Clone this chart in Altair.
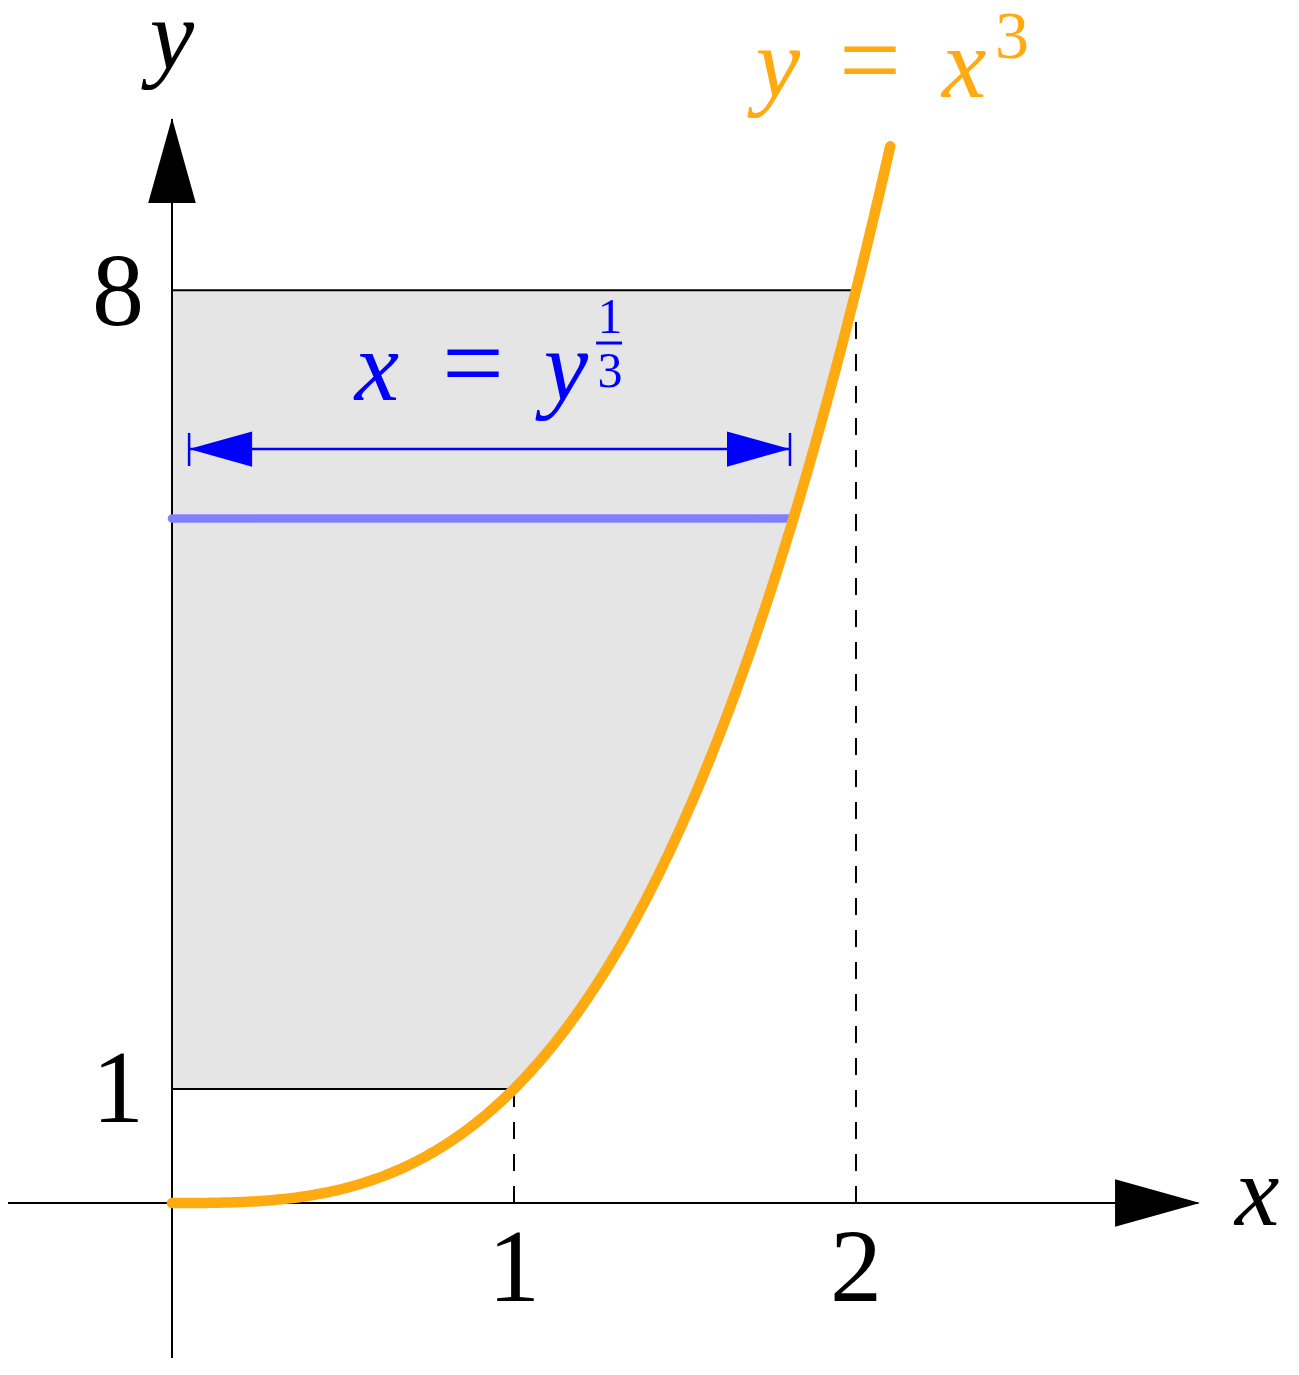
import altair as alt
import numpy as np
import pandas as pd

# ---------------- data ----------------
# the plotted function y = x^3 (as labelled in the figure), sampled on x
curve_x = np.linspace(0.0, 2.1, 211)
curve_y = curve_x ** 3

# shaded region: 1 <= y <= 8, 0 <= x <= y^(1/3)
region_y = np.linspace(1.0, 8.0, 141)
region_x = region_y ** (1.0 / 3.0)

# sample slice at y = 6
slice_y = [6.0]
slice_x_end = [6.0 ** (1.0 / 3.0)]

# region boundary lines
bound_y = [1.0, 8.0]
bound_x_end = [1.0, 2.0]

# dashed drop lines
drop_x = [1.0, 2.0]
drop_y_top = [1.0, 8.0]

# width arrow (x = y^(1/3)) annotation
warrow_y = 6.608
warrow_x = [0.05, 1.807]
warrow_bar_y = [6.459, 6.749]

# axis extents / arrow tips
xaxis_range = [-1.0, 3.0]
yaxis_range = [-2.0, 9.5]
xtip = [3.006]
ytip = [9.509]

# tick labels
xtick_labels = ["1", "2"]
xtick_pos = [1.0, 2.0]
ytick_labels = ["8", "1"]
ytick_pos = [7.695, 0.71]

# ---------------- scales ----------------
W, H = 1280, 1350
PX_X, PX_Y = 342.0, 114.1
x0 = -(172 - 8) / PX_X
x1 = x0 + W / PX_X
y1 = (1203 - 8) / PX_Y
y0 = y1 - H / PX_Y

xs = alt.Scale(domain=[x0, x1], nice=False, zero=False)
ys = alt.Scale(domain=[y0, y1], nice=False, zero=False)


def X(f):
    return alt.X(f, type="quantitative", scale=xs, axis=None)


def Y(f):
    return alt.Y(f, type="quantitative", scale=ys, axis=None)


FONT = "Liberation Serif"
ORANGE = "#ffaa11"
BLUE = "#0000ff"
ARROW = "M0,0L-1,-0.28L-1,0.28Z"

layers = []

# gray region
reg = pd.DataFrame({"y": region_y, "x": region_x, "x0": 0.0})
layers.append(
    alt.Chart(reg).mark_area(orient="horizontal", color="#e5e5e5").encode(
        y=Y("y"), x=X("x0"), x2="x"
    )
)

# boundary lines y=1, y=8
bd = pd.DataFrame({"y": bound_y, "xe": bound_x_end, "xs": 0.0})
layers.append(
    alt.Chart(bd).mark_rule(color="black", strokeWidth=2).encode(
        y=Y("y"), x=X("xs"), x2="xe"
    )
)

# dashed drop lines
dr = pd.DataFrame({"x": drop_x, "yt": drop_y_top, "yb": 0.0})
layers.append(
    alt.Chart(dr).mark_rule(color="black", strokeWidth=2, strokeDash=[17, 15]).encode(
        x=X("x"), y=Y("yb"), y2="yt"
    )
)

# axes lines
ax = pd.DataFrame({"a": [xaxis_range[0]], "b": [xaxis_range[1]], "z": [0.0]})
layers.append(
    alt.Chart(ax).mark_rule(color="black", strokeWidth=2).encode(
        x=X("a"), x2="b", y=Y("z")
    )
)
ay = pd.DataFrame({"a": [yaxis_range[0]], "b": [yaxis_range[1]], "z": [0.0]})
layers.append(
    alt.Chart(ay).mark_rule(color="black", strokeWidth=2).encode(
        y=Y("a"), y2="b", x=X("z")
    )
)

# axis arrowheads
layers.append(
    alt.Chart(pd.DataFrame({"x": xtip, "y": [0.0]})).mark_point(
        shape=ARROW, filled=True, color="black", opacity=1, size=28900, strokeWidth=0
    ).encode(x=X("x"), y=Y("y"))
)
layers.append(
    alt.Chart(pd.DataFrame({"x": [0.0], "y": ytip})).mark_point(
        shape=ARROW, filled=True, color="black", opacity=1, size=28900, strokeWidth=0, angle=270
    ).encode(x=X("x"), y=Y("y"))
)

# blue slice line at y = 6
sl = pd.DataFrame({"y": slice_y, "xe": slice_x_end, "xs": 0.0})
layers.append(
    alt.Chart(sl).mark_rule(color="#8080ff", strokeWidth=8.5, strokeCap="round").encode(
        y=Y("y"), x=X("xs"), x2="xe"
    )
)

# width arrow
wa = pd.DataFrame({"y": [warrow_y], "a": [warrow_x[0]], "b": [warrow_x[1]]})
layers.append(
    alt.Chart(wa).mark_rule(color=BLUE, strokeWidth=2.5).encode(y=Y("y"), x=X("a"), x2="b")
)
wb = pd.DataFrame({"x": warrow_x, "ya": warrow_bar_y[0], "yb": warrow_bar_y[1]})
layers.append(
    alt.Chart(wb).mark_rule(color=BLUE, strokeWidth=2.5).encode(x=X("x"), y=Y("ya"), y2="yb")
)
layers.append(
    alt.Chart(pd.DataFrame({"x": [warrow_x[1]], "y": [warrow_y]})).mark_point(
        shape=ARROW, filled=True, color=BLUE, opacity=1, size=15876, strokeWidth=0
    ).encode(x=X("x"), y=Y("y"))
)
layers.append(
    alt.Chart(pd.DataFrame({"x": [warrow_x[0]], "y": [warrow_y]})).mark_point(
        shape=ARROW, filled=True, color=BLUE, opacity=1, size=15876, strokeWidth=0, angle=180
    ).encode(x=X("x"), y=Y("y"))
)

# orange curve
cv = pd.DataFrame({"x": curve_x, "y": curve_y, "o": np.arange(len(curve_x))})
layers.append(
    alt.Chart(cv).mark_line(color=ORANGE, strokeWidth=10.5, strokeCap="round", strokeJoin="round").encode(
        x=X("x"), y=Y("y"), order="o:Q"
    )
)


def txt(labels, xv, yv, size, color, italic):
    df = pd.DataFrame({"t": labels, "x": xv, "y": yv})
    kw = dict(font=FONT, fontSize=size, color=color, align="center", baseline="alphabetic")
    if italic:
        kw["fontStyle"] = "italic"
    return alt.Chart(df).mark_text(**kw).encode(x=X("x"), y=Y("y"), text="t:N")


# axis names
layers.append(txt(["x"], [3.173], [-0.193], 100, "black", True))
layers.append(txt(["y"], [0.0], [9.939], 100, "black", True))
# tick labels
layers.append(txt(xtick_labels, xtick_pos, [-0.859, -0.859], 104, "black", False))
layers.append(txt(ytick_labels, [-0.158, -0.158], ytick_pos, 104, "black", False))

# blue label x = y^(1/3)
layers.append(txt(["x", "y"], [0.599, 1.152], [7.038, 7.038], 100, BLUE, True))
layers.append(txt(["="], [0.880], [7.038], 110, BLUE, False))
layers.append(txt(["1"], [1.281], [7.625], 50, BLUE, False))
layers.append(txt(["3"], [1.281], [7.152], 50, BLUE, False))
fb = pd.DataFrame({"a": [1.240], "b": [1.316], "y": [7.537]})
layers.append(
    alt.Chart(fb).mark_rule(color=BLUE, strokeWidth=3).encode(x=X("a"), x2="b", y=Y("y"))
)

# orange label y = x^3
layers.append(txt(["y", "x"], [1.772, 2.316], [9.693, 9.693], 100, ORANGE, True))
layers.append(txt(["="], [2.041], [9.693], 110, ORANGE, False))
layers.append(txt(["3"], [2.456], [10.035], 68, ORANGE, False))

chart = (
    alt.layer(*layers)
    .properties(width=W, height=H, padding=0, autosize=alt.AutoSizeParams(type="none"), background="white")
    .configure_view(strokeWidth=0)
)

chart.save("out.html", embed_options={"renderer": "svg", "actions": False})
